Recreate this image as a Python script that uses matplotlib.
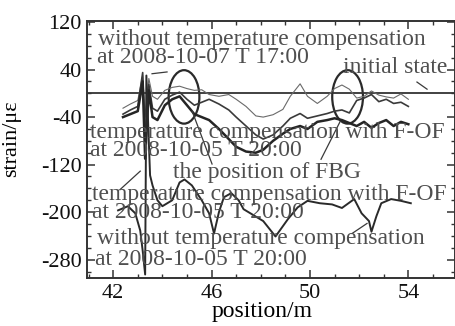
import matplotlib
matplotlib.use("Agg")
import matplotlib.pyplot as plt
from matplotlib.ticker import FixedLocator, MultipleLocator
from matplotlib.patches import Ellipse

plt.rcParams['font.family'] = ['Liberation Serif', 'DejaVu Serif']
plt.rcParams['axes.unicode_minus'] = False

# strain curves (position in m, strain in micro-strain)
pos_top = [42.4, 42.7, 43.0, 43.2, 43.3, 43.45, 43.6, 43.8, 44.1, 44.4, 44.7, 45.0, 45.3,
           45.6, 45.9, 46.3, 46.7, 47.0, 47.4, 47.8, 48.1, 48.5, 48.9, 49.2, 49.6, 49.9,
           50.3, 50.7, 51.0, 51.3, 51.6, 51.9, 52.2, 52.5, 52.8, 53.1, 53.4, 53.7, 54.0]
nocomp_1007 = [-25, -18, -12, 30, -40, 25, -5, -10, 5, 10, 12, 8, 5,
               6, -2, -5, -2, -10, -22, -38, -40, -36, -27, -5, 16, -5,
               -17, -5, 8, 14, 7, -8, -5, 4, -3, -6, -8, -1, -10]
comp_a = [-35, -28, -22, 35, -85, 15, -25, -30, -10, -3, 2, -10, -20,
          -15, -10, -18, -28, -40, -55, -70, -77, -70, -55, -42, -34, -42,
          -38, -34, -30, -28, -33, -12, -8, -2, -14, -10, -17, -15, -22]
comp_b = [-40, -35, -30, 20, -110, 5, -40, -45, -20, -10, -5, -20, -35,
          -40, -45, -60, -77, -90, -98, -100, -95, -80, -68, -60, -55, -60,
          -48, -45, -42, -45, -50, -55, -48, -58, -50, -45, -55, -48, -52]

pos_bot = [42.2, 42.6, 42.9, 43.1, 43.2, 43.3, 43.35, 43.5, 43.6, 43.8, 44.0, 44.4, 44.7,
           44.9, 45.2, 45.6, 45.9, 46.1, 46.3, 46.5, 46.8, 47.1, 47.3, 47.7, 48.1, 48.6,
           49.1, 49.5, 49.9, 50.4, 50.9, 51.3, 51.8, 52.1, 52.4, 52.5, 52.7, 52.9, 53.3,
           53.7, 54.1]
nocomp_1005 = [-197, -190, -202, -231, -265, -305, 30, -138, -155, -180, -190, -180, -150,
               -145, -155, -180, -202, -236, -200, -175, -168, -180, -195, -205, -215, -241,
               -212, -192, -181, -185, -187, -193, -178, -202, -215, -233, -207, -185, -178,
               -181, -185]

fbg_pos = [44.88, 51.53]
yticks = [120, 40, -40, -120, -200, -280]
xticks = [42, 46, 50, 54]

fig = plt.figure(figsize=(4.56, 3.26), dpi=100)
ax = fig.add_axes([0.191, 0.147, 0.807, 0.789])

ax.axhline(0, color='#333333', lw=1.3)
ax.plot(pos_top, nocomp_1007, color='#6a6a6a', lw=0.8)
ax.plot(pos_top, comp_a, color='#3a3a3a', lw=1.2)
ax.plot(pos_top, comp_b, color='#252525', lw=1.8)
ax.plot(pos_bot, nocomp_1005, color='#2a2a2a', lw=1.4)

for xp in fbg_pos:
    ax.add_patch(Ellipse((xp, -6), 1.25, 90, fill=False, ec='#2a2a2a', lw=1.6))

# leader lines
lc = dict(color='#3a3a3a', lw=0.9)
ax.plot([43.58, 44.19], [33, 36], **lc)
ax.plot([54.35, 54.76], [19, 7], **lc)
ax.plot([50.45, 51.22], [-111, -48], **lc)
ax.plot([46.02, 45.21], [-119, -30], **lc)
ax.plot([42.28, 43.1], [-162, -131], **lc)
ax.plot([51.71, 52.32], [-236, -219], **lc)

tc = dict(transform=ax.transAxes, fontsize=17, color='#4f4f4f', va='baseline', ha='left')
ax.text(0.030, 0.907, 'without temperature compensation', **tc)
ax.text(0.027, 0.837, 'at 2008-10-07 T 17:00', **tc)
ax.text(0.696, 0.798, 'initial state', **tc)
ax.text(0.008, 0.545, 'temperature compensation with F-OF', **tc)
ax.text(0.008, 0.475, 'at 2008-10-05 T 20:00', **tc)
ax.text(0.234, 0.389, 'the position of FBG', **tc)
ax.text(0.014, 0.304, 'temperature compensation with F-OF', **tc)
ax.text(0.014, 0.233, 'at 2008-10-05 T 20:00', **tc)
ax.text(0.027, 0.132, 'without temperature compensation', **tc)
ax.text(0.022, 0.051, 'at 2008-10-05 T 20:00', **tc)

ax.set_xlim(40.94, 55.9)
ax.set_ylim(-311, 122)
ax.yaxis.set_major_locator(FixedLocator(yticks))
ax.yaxis.set_minor_locator(MultipleLocator(20))
ax.xaxis.set_major_locator(FixedLocator(xticks))
ax.xaxis.set_minor_locator(MultipleLocator(1))
ax.tick_params(which='both', direction='in', top=True, right=True, colors='#333333',
               labelcolor='#111111', labelsize=16)
ax.tick_params(which='major', length=6, width=1.1, pad=4)
ax.tick_params(which='minor', length=3, width=1.0)
for s in ax.spines.values():
    s.set_color('#333333')
    s.set_linewidth(1.4)

ax.set_xlabel('position/m', fontsize=17)
ax.set_ylabel('strain/με', fontsize=16)
ax.xaxis.set_label_coords(0.476, -0.088)
ax.yaxis.set_label_coords(-0.178, 0.54)

fig.savefig('out.png', dpi=100)
